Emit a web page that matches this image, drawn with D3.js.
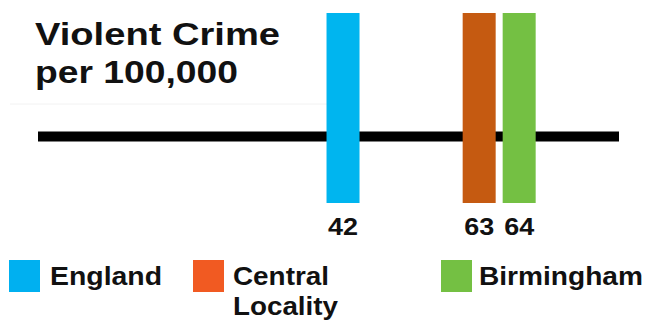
<!DOCTYPE html>
<html>
<head>
<meta charset="utf-8">
<script src="https://cdn.jsdelivr.net/npm/d3@7/dist/d3.min.js"></script>
<style>
  html, body { margin: 0; padding: 0; background: #fff; }
  svg { display: block; }
  text { font-family: "Liberation Sans", Arial, sans-serif; font-weight: bold; fill: #111; }
</style>
</head>
<body>
<svg id="chart" width="648" height="320"></svg>
<script>
// Violent crime rate per 100,000 population
const areas = ["England", "Central Locality", "Birmingham"];
const rates = [42, 63, 64];
const barColors = ["#00b5ef", "#c55a11", "#74c043"];
const legendColors = ["#00b0f0", "#f15a22", "#74c043"];
const legendLines = [["England"], ["Central", "Locality"], ["Birmingham"]];
const scaleDomain = [0, 80];

const svg = d3.select("#chart");
const W = 648;

const x = d3.scaleLinear().domain(scaleDomain).range([38, 619]);

// Title
const title = svg.append("g");
title.append("text").attr("x", 35).attr("y", 45)
  .attr("font-size", 32).attr("textLength", 245).attr("lengthAdjust", "spacingAndGlyphs")
  .text("Violent Crime");
title.append("text").attr("x", 35).attr("y", 83)
  .attr("font-size", 32).attr("textLength", 203).attr("lengthAdjust", "spacingAndGlyphs")
  .text("per 100,000");

// faint rule under the title
svg.append("line").attr("x1", 10).attr("x2", 330).attr("y1", 104).attr("y2", 104)
  .attr("stroke", "#f2f2f2").attr("stroke-width", 1);

// scale line
svg.append("line")
  .attr("x1", x(scaleDomain[0])).attr("x2", x(scaleDomain[1]))
  .attr("y1", 136.5).attr("y2", 136.5)
  .attr("stroke", "#000").attr("stroke-width", 10);

// bar positions from the scale, nudged apart where markers would overlap
const barW = 33, minGap = 7;
const pos = rates.map(v => x(v));
for (let iter = 0; iter < 5; iter++) {
  for (let i = 1; i < pos.length; i++) {
    const d = pos[i] - pos[i - 1];
    if (d < barW + minGap) {
      const push = (barW + minGap - d) / 2;
      pos[i - 1] -= push;
      pos[i] += push;
    }
  }
}

const barTop = 13, barBottom = 203;
const markers = svg.append("g").selectAll("g").data(rates).join("g");
markers.append("rect")
  .attr("x", (d, i) => pos[i] - barW / 2)
  .attr("y", barTop)
  .attr("width", barW)
  .attr("height", barBottom - barTop)
  .attr("fill", (d, i) => barColors[i]);
markers.append("text")
  .attr("x", (d, i) => pos[i])
  .attr("y", 235)
  .attr("text-anchor", "middle")
  .attr("font-size", 23)
  .attr("textLength", 30).attr("lengthAdjust", "spacingAndGlyphs")
  .text(d => d);

// Legend
const legendX = [9, 193, 441];
const legendTextW = [[112], [96, 105], [164]];
const legend = svg.append("g").selectAll("g").data(areas).join("g")
  .attr("transform", (d, i) => `translate(${legendX[i]},260)`);
legend.append("rect").attr("width", 31).attr("height", 32)
  .attr("fill", (d, i) => legendColors[i]);
legend.each(function (d, i) {
  const g = d3.select(this);
  legendLines[i].forEach((line, j) => {
    g.append("text")
      .attr("x", 40 - (i === 2 ? 2 : 0) + (i === 0 ? 1 : 0))
      .attr("y", 25 + j * 30)
      .attr("font-size", 25)
      .attr("textLength", legendTextW[i][j]).attr("lengthAdjust", "spacingAndGlyphs")
      .text(line);
  });
});
</script>
</body>
</html>
